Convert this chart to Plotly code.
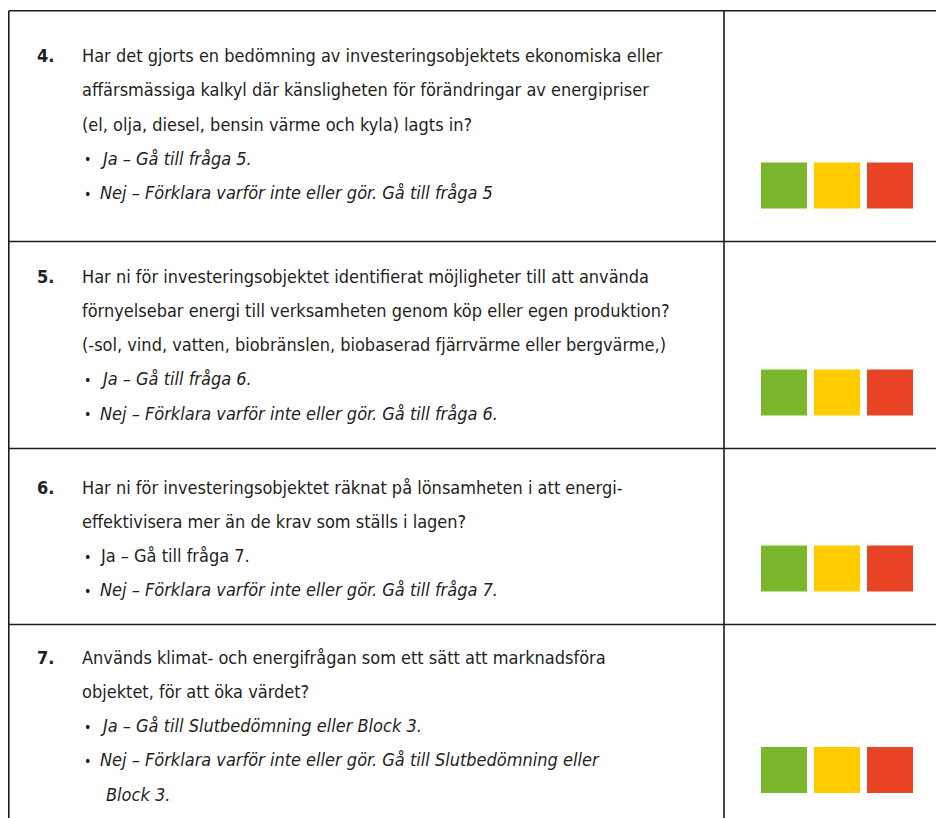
import plotly.graph_objects as go

# ---- content ----
numbers = ["4.", "5.", "6.", "7."]
questions = [
    ["Har det gjorts en bedömning av investeringsobjektets ekonomiska eller",
     "affärsmässiga kalkyl där känsligheten för förändringar av energipriser",
     "(el, olja, diesel, bensin värme och kyla) lagts in?"],
    ["Har ni för investeringsobjektet identifierat möjligheter till att använda",
     "förnyelsebar energi till verksamheten genom köp eller egen produktion?",
     "(-sol, vind, vatten, biobränslen, biobaserad fjärrvärme eller bergvärme,)"],
    ["Har ni för investeringsobjektet räknat på lönsamheten i att energi-",
     "effektivisera mer än de krav som ställs i lagen?"],
    ["Används klimat- och energifrågan som ett sätt att marknadsföra",
     "objektet, för att öka värdet?"],
]
answers = [
    [["Ja – Gå till fråga 5."], ["Nej – Förklara varför inte eller gör. Gå till fråga 5"]],
    [["Ja – Gå till fråga 6."], ["Nej – Förklara varför inte eller gör. Gå till fråga 6."]],
    [["Ja – Gå till fråga 7."], ["Nej – Förklara varför inte eller gör. Gå till fråga 7."]],
    [["Ja – Gå till Slutbedömning eller Block 3."],
     ["Nej – Förklara varför inte eller gör. Gå till Slutbedömning eller", "Block 3."]],
]
answer_italic = [
    [True, True],
    [True, True],
    [False, True],
    [True, True],
]
rating_colors = ["#7ab72d", "#ffcc00", "#e84324"]

# ---- layout constants ----
PAGE_MARGIN = 8          # browser default body margin
W, H = 944 - PAGE_MARGIN, 818 - PAGE_MARGIN
FONT = "DejaVu Sans Condensed, Liberation Sans Narrow, Liberation Sans, sans-serif"
row_lines = [10.7, 241.5, 448.5, 624.5, 826]
first_line_y = [55.5, 276, 487, 657]
line_gap = 34.3
x_left, x_div = 8.8, 724
x_num, x_text, x_bullet, x_btext, x_cont = 35, 80, 86, 98, 104
sq_x = [761, 814, 867]
sq_size = 46
sq_bottom_pad = 33
fs = 18
TXT_COLOR = "#231f20"

fig = go.Figure()
fig.add_trace(go.Scatter(x=[PAGE_MARGIN, 944], y=[PAGE_MARGIN, 818], mode="markers",
                         marker=dict(opacity=0), hoverinfo="skip", showlegend=False))

shapes = []
annotations = []
lc = "#1c1c1c"
lw = 1.6
for y in row_lines[:-1]:
    shapes.append(dict(type="line", xref="x", yref="y", x0=x_left, x1=960, y0=y, y1=y,
                       line=dict(color=lc, width=lw)))
for xv in (x_left, x_div):
    shapes.append(dict(type="line", xref="x", yref="y", x0=xv, x1=xv, y0=row_lines[0], y1=840,
                       line=dict(color=lc, width=lw)))

def txt(x, y, s, size=fs):
    annotations.append(dict(x=x, y=y, xref="x", yref="y", text=s, showarrow=False,
                            xanchor="left", yanchor="middle",
                            font=dict(family=FONT, size=size, color=TXT_COLOR)))

for r in range(len(numbers)):
    y = first_line_y[r]
    txt(x_num, y, "<b>" + numbers[r] + "</b>")
    for line in questions[r]:
        txt(x_text, y, line)
        y += line_gap
    for a, lines in enumerate(answers[r]):
        txt(x_bullet - 4, y + 1, "•", size=14)
        for k, line in enumerate(lines):
            s = "<i>" + line + "</i>" if answer_italic[r][a] else line
            txt(x_btext if k == 0 else x_cont, y, s)
            y += line_gap
    yb = row_lines[r + 1] - sq_bottom_pad
    for c, col in enumerate(rating_colors):
        shapes.append(dict(type="rect", xref="x", yref="y", x0=sq_x[c], x1=sq_x[c] + sq_size,
                           y0=yb - sq_size, y1=yb, fillcolor=col, line=dict(width=0)))

fig.update_layout(
    width=W, height=H, margin=dict(l=0, r=0, t=0, b=0),
    paper_bgcolor="white", plot_bgcolor="white",
    xaxis=dict(range=[PAGE_MARGIN, 944], visible=False, fixedrange=True),
    yaxis=dict(range=[818, PAGE_MARGIN], visible=False, fixedrange=True),
    shapes=shapes, annotations=annotations, showlegend=False,
)
fig.write_html("out.html")
